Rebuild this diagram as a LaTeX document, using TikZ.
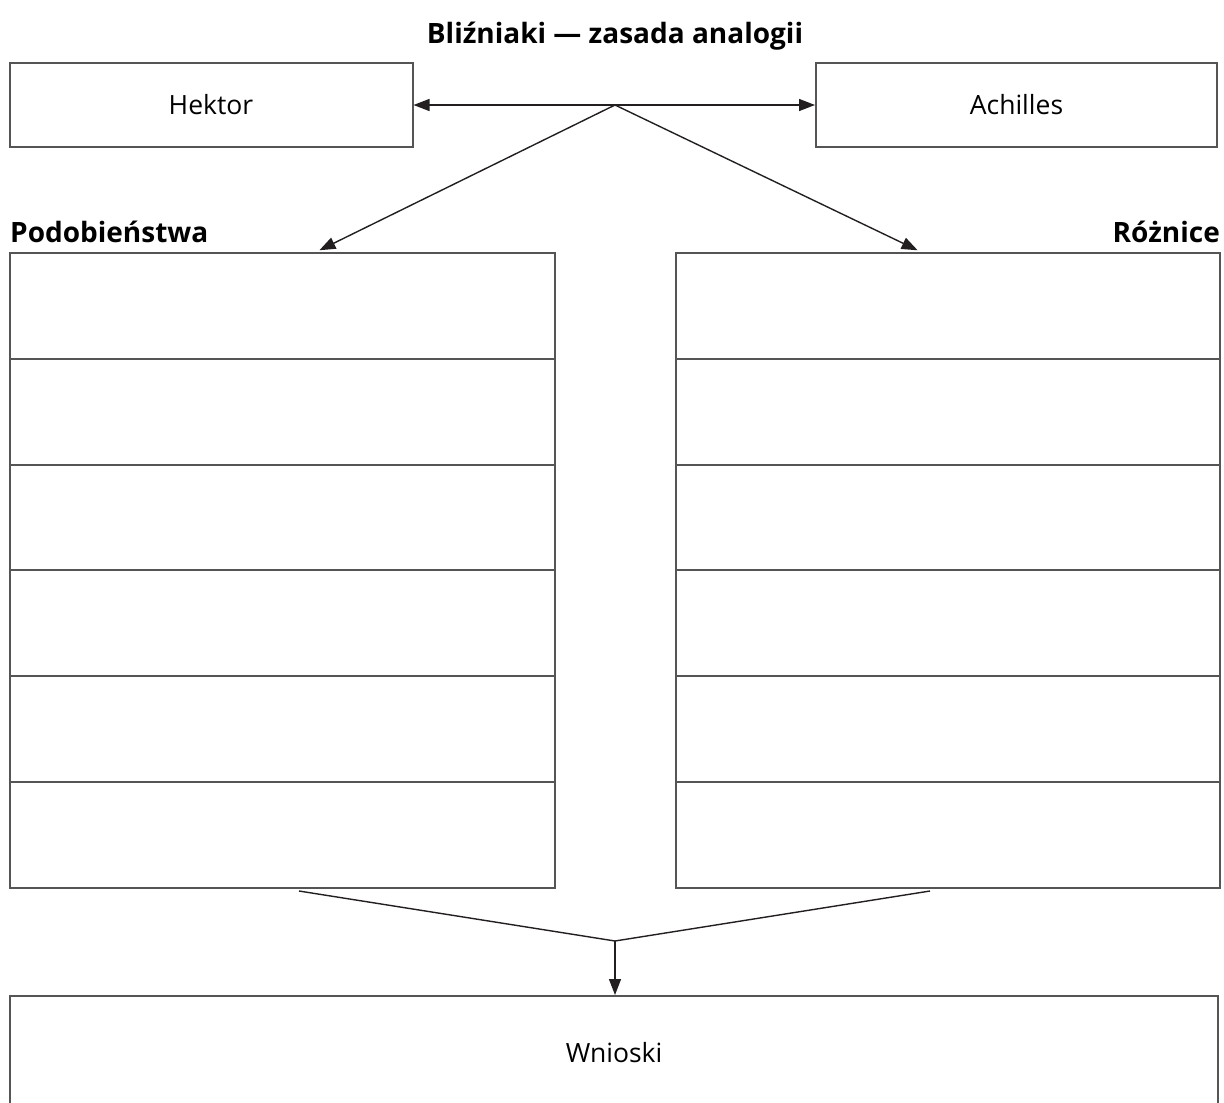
\documentclass[tikz,border=0pt]{standalone}
\usepackage{fontspec}
\setmainfont{Open Sans}
\usetikzlibrary{arrows.meta,calc}
\definecolor{boxline}{HTML}{555555}
\definecolor{conn}{HTML}{231F20}
\begin{document}
\begin{tikzpicture}[x=1pt,y=-1pt,
  box/.style={draw=boxline,line width=2pt,minimum width=#1,minimum height=84pt,inner sep=0pt,font=\fontsize{26.5}{32}\selectfont},
  cell/.style={draw=boxline,line width=2pt,minimum width=#1,minimum height=105.8pt,inner sep=0pt},
  link/.style={draw=conn,line width=1.4pt},
  arr/.style={link,-{Triangle[length=16pt,width=12pt]}},
  lbl/.style={font=\fontsize{28}{34}\selectfont\bfseries,inner sep=0pt}]
\useasboundingbox (0,0) rectangle (1224,1103);
\clip (0,0) rectangle (1224,1103);
% title
\node[lbl,anchor=base] (title) at (615,43) {Bliźniaki — zasada analogii};
% top boxes
\node[box=403pt] (hektor) at (211,105) {Hektor};
\node[box=401pt] (achilles) at (1016.5,105) {Achilles};
\coordinate (apex) at (615,105);
\draw[arr] (apex) -- (hektor.east);
\draw[arr] (apex) -- (achilles.west);
% column labels
\node[lbl,anchor=base west] (podlbl) at (10,242) {Podobieństwa};
\node[lbl,anchor=base east] (roznlbl) at (1220,242) {Różnice};
% columns
\foreach \i in {1,...,6}{
  \node[cell=545pt] (p\i) at (282.5,{253+105.8*(\i-0.5)}) {};
  \node[cell=544pt] (r\i) at (948,{253+105.8*(\i-0.5)}) {};
}
\coordinate (ptip) at ($(p1.north west)!0.561!(p1.north east)$);
\coordinate (rtip) at ($(r1.north west)!0.451!(r1.north east)$);
\draw[arr,shorten >=4pt] (apex) -- (ptip);
\draw[arr,shorten >=4pt] (apex) -- (rtip);
% bottom merge
\coordinate (lstart) at (299,891);
\coordinate (rstart) at (930,891);
\coordinate (merge) at (615,941);
\node[draw=boxline,line width=2pt,minimum width=1208pt,minimum height=140pt,inner sep=0pt,anchor=north] (wnioski) at (614,995) {};
\node[font=\fontsize{26.5}{32}\selectfont,inner sep=0pt] (wtext) at (614,1053) {Wnioski};
\draw[link] (lstart) -- (merge) -- (rstart);
\draw[arr] (merge) -- (merge |- wnioski.north);
\end{tikzpicture}
\end{document}
